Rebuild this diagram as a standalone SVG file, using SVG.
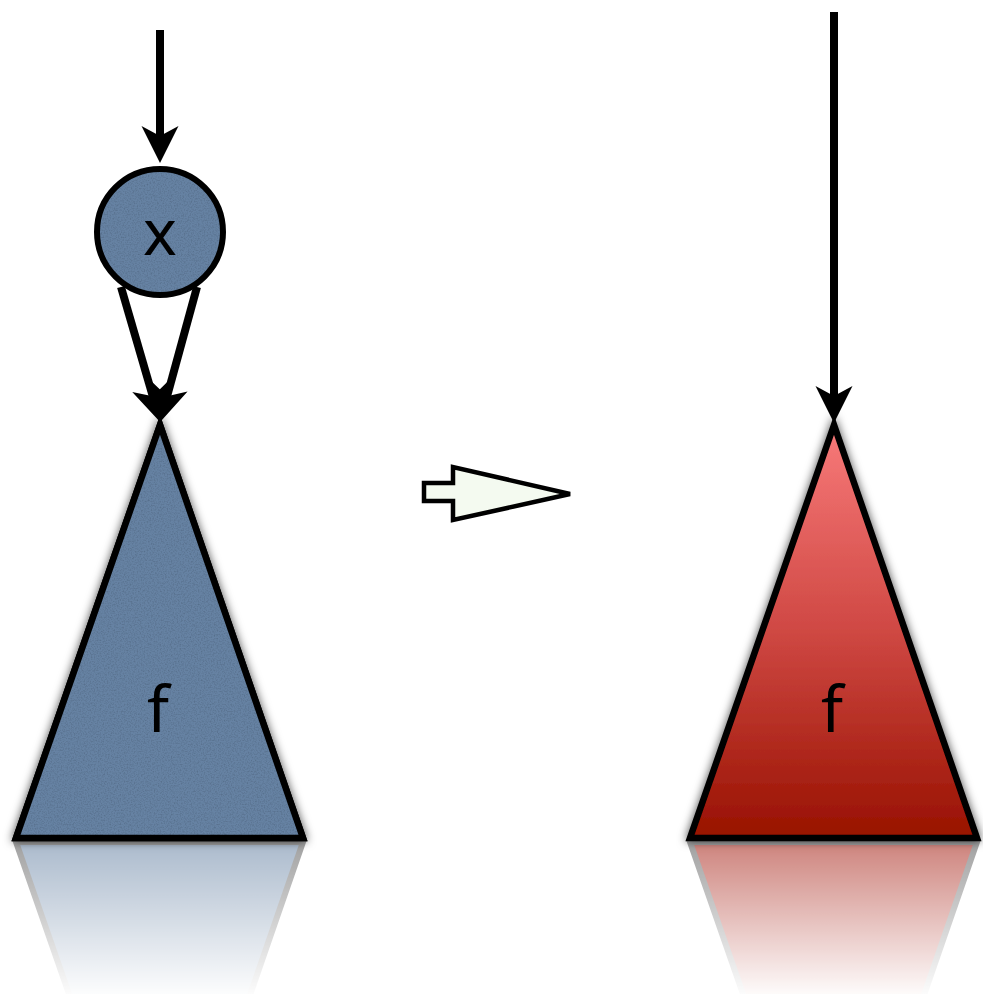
<svg xmlns="http://www.w3.org/2000/svg" xmlns:xlink="http://www.w3.org/1999/xlink" width="983" height="994" viewBox="0 0 983 994">
  <style>
    .edge { stroke: #000; stroke-width: 8; fill: none; marker-end: url(#head); }
    .outline { stroke: #000; stroke-width: 6.5; stroke-linejoin: miter; }
    .label { font-family: "Noto Sans", "DejaVu Sans", sans-serif; font-size: 64px; fill: #000; text-anchor: middle; }
  </style>
  <defs>
    <marker id="head" viewBox="-45 -22 50 44" refX="-18" refY="0" markerWidth="50" markerHeight="44" markerUnits="userSpaceOnUse" orient="auto" overflow="visible">
      <path d="M0,0 L-37,-18.5 L-27,0 L-37,18.5 Z" fill="#000"/>
    </marker>
    <linearGradient id="redGrad" x1="0" y1="425" x2="0" y2="838" gradientUnits="userSpaceOnUse">
      <stop offset="0" stop-color="#F87A7A"/>
      <stop offset="0.5" stop-color="#CF4843"/>
      <stop offset="1" stop-color="#981100"/>
    </linearGradient>
    <linearGradient id="fadeGrad" x1="0" y1="842" x2="0" y2="994" gradientUnits="userSpaceOnUse">
      <stop offset="0" stop-color="#fff" stop-opacity="0.55"/>
      <stop offset="1" stop-color="#fff" stop-opacity="0.02"/>
    </linearGradient>
    <mask id="fade" maskUnits="userSpaceOnUse" x="0" y="838" width="983" height="156">
      <rect x="0" y="838" width="983" height="156" fill="url(#fadeGrad)"/>
    </mask>
    <filter id="shadow" x="-20%" y="-20%" width="140%" height="140%">
      <feDropShadow dx="0" dy="0" stdDeviation="5" flood-color="#000" flood-opacity="0.7"/>
    </filter>
    <filter id="texture" x="0" y="0" width="100%" height="100%">
      <feTurbulence type="fractalNoise" baseFrequency="0.7" numOctaves="2" seed="3" result="noise"/>
      <feColorMatrix in="noise" type="matrix" values="0 0 0 0 0  0 0 0 0 0  0 0 0 0 0  0 0 0 -0.6 0.35" result="dark"/>
      <feComposite in="dark" in2="SourceGraphic" operator="in" result="darkIn"/>
      <feMerge>
        <feMergeNode in="SourceGraphic"/>
        <feMergeNode in="darkIn"/>
      </feMerge>
    </filter>
    <polygon id="triLshape" points="160,425 16,838 303,838"/>
    <polygon id="triRshape" points="834,425 690,838 977,838"/>
  </defs>

  <!-- reflections -->
  <g id="reflections">
    <g mask="url(#fade)">
      <use href="#triLshape" transform="translate(0,1680) scale(1,-1)" fill="#6682A3" stroke="#555" stroke-width="6"/>
    </g>
    <g mask="url(#fade)">
      <use href="#triRshape" transform="translate(0,1680) scale(1,-1)" fill="#A51E12" stroke="#555" stroke-width="6"/>
    </g>
  </g>

  <g id="node-f-left">
    <g filter="url(#shadow)">
      <use href="#triLshape" fill="#6682A3" stroke="#000" stroke-width="6.5"/>
    </g>
    <use href="#triLshape" fill="#6682A3" filter="url(#texture)"/>
    <use href="#triLshape" fill="none" class="outline"/>
    <text class="label" x="158" y="732">f</text>
  </g>

  <g id="node-x">
    <circle cx="160" cy="232" r="63" fill="#6682A3" filter="url(#texture)"/>
    <circle cx="160" cy="232" r="63" fill="none" stroke="#000" stroke-width="6"/>
    <text class="label" x="160" y="255">x</text>
  </g>

  <g id="node-f-right">
    <g filter="url(#shadow)">
      <use href="#triRshape" fill="url(#redGrad)" class="outline"/>
    </g>
    <text class="label" x="832" y="732">f</text>
  </g>

  <g id="transform-arrow">
    <polygon points="424,483 453,483 453,467 570,494 453,520 453,501 424,501" fill="#F4FAF0" stroke="#000" stroke-width="4.5" stroke-linejoin="miter"/>
  </g>

  <g id="connectors">
    <line class="edge" x1="160" y1="30" x2="160" y2="145"/>
    <line class="edge" x1="121" y1="287" x2="155.3" y2="405"/>
    <line class="edge" x1="197" y1="287" x2="164.7" y2="405"/>
    <line class="edge" x1="834" y1="12" x2="834" y2="405"/>
  </g>
</svg>
